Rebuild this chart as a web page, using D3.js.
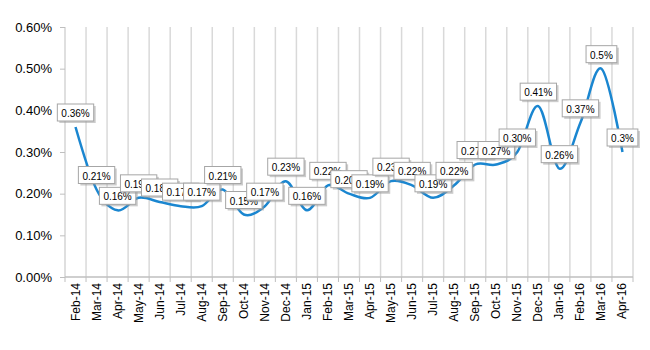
<!DOCTYPE html>
<html><head><meta charset="utf-8">
<script src="https://cdn.jsdelivr.net/npm/d3@7"></script>
<style>body{margin:0;background:#fff}svg{display:block}</style>
</head><body><svg id="c" width="650" height="350"></svg>
<script>
const months = ["Feb-14","Mar-14","Apr-14","May-14","Jun-14","Jul-14","Aug-14","Sep-14","Oct-14","Nov-14","Dec-14","Jan-15","Feb-15","Mar-15","Apr-15","May-15","Jun-15","Jul-15","Aug-15","Sep-15","Oct-15","Nov-15","Dec-15","Jan-16","Feb-16","Mar-16","Apr-16"];
const values = [0.36,0.21,0.16,0.19,0.18,0.17,0.17,0.21,0.15,0.17,0.23,0.16,0.22,0.20,0.19,0.23,0.22,0.19,0.22,0.27,0.27,0.30,0.41,0.26,0.37,0.50,0.30];
const labels = ["0.36%","0.21%","0.16%","0.19%","0.18%","0.17%","0.17%","0.21%","0.15%","0.17%","0.23%","0.16%","0.22%","0.20%","0.19%","0.23%","0.22%","0.19%","0.22%","0.27%","0.27%","0.30%","0.41%","0.26%","0.37%","0.5%","0.3%"];
const yTicks = [0,0.1,0.2,0.3,0.4,0.5,0.6];

const svg = d3.select("#c");
const L=65, R=633, T=27, B=277;
const x = d3.scaleBand().domain(months).range([L,R]).padding(0);
const y = d3.scaleLinear().domain([0,0.6]).range([B,T]);

// vertical gridlines at band boundaries
const bounds = months.map(m=>x(m)).concat([R]);
svg.append("g").selectAll("line").data(bounds.slice(1)).join("line")
  .attr("x1",d=>d).attr("x2",d=>d).attr("y1",T).attr("y2",B)
  .attr("stroke","#d9d9d9").attr("stroke-width",1.5);

// y axis
const ya = svg.append("g").attr("transform",`translate(${L},0)`)
  .call(d3.axisLeft(y).tickValues(yTicks).tickSize(5).tickPadding(8).tickFormat(d=>d.toFixed(2)+"%"));
ya.select(".domain").attr("stroke","#bfbfbf").attr("d",`M0,${T}V${B}`);
ya.selectAll(".tick line").attr("stroke","#bfbfbf");
ya.selectAll("text").attr("font-family","Liberation Sans, Arial, sans-serif").attr("font-size",13).attr("fill","#000");

// x axis
const xa = svg.append("g").attr("transform",`translate(0,${B})`);
xa.append("line").attr("x1",L).attr("x2",R).attr("y1",0).attr("y2",0).attr("stroke","#bfbfbf").attr("stroke-width",1.5);
xa.selectAll("line.t").data(bounds).join("line").attr("class","t")
  .attr("x1",d=>d).attr("x2",d=>d).attr("y1",0).attr("y2",5).attr("stroke","#bfbfbf");
xa.selectAll("text").data(months).join("text")
  .attr("transform",d=>`translate(${x(d)+x.bandwidth()/2+4},6) rotate(-90)`)
  .attr("text-anchor","end")
  .attr("font-family","Liberation Sans, Arial, sans-serif").attr("font-size",12).attr("fill","#000")
  .text(d=>d);

// line
const line = d3.line().x((d,i)=>x(months[i])+x.bandwidth()/2).y(d=>y(d)).curve(d3.curveCatmullRom.alpha(0));
svg.append("path").datum(values).attr("d",line).attr("fill","none")
  .attr("stroke","#1a86d0").attr("stroke-width",2.5);

// labels
const lg = svg.append("g").attr("font-family","Liberation Sans, Arial, sans-serif").attr("font-size",10);
values.forEach((v,i)=>{
  const cx = x(months[i])+x.bandwidth()/2;
  const cy = y(v);
  const g = lg.append("g");
  const t = g.append("text").attr("x",cx).attr("y",cy-10).attr("text-anchor","middle").attr("fill","#000").text(labels[i]);
  const w = t.node().getComputedTextLength()+8, h=17;
  const bx = cx-w/2, by = cy-23;
  g.insert("rect","text").attr("x",bx+2).attr("y",by+2).attr("width",w).attr("height",h).attr("fill","#999").attr("opacity",0.5);
  g.insert("rect","text").attr("x",bx).attr("y",by).attr("width",w).attr("height",h).attr("fill","#fff").attr("stroke","#a6a6a6").attr("stroke-width",1);
});
</script></body></html>
